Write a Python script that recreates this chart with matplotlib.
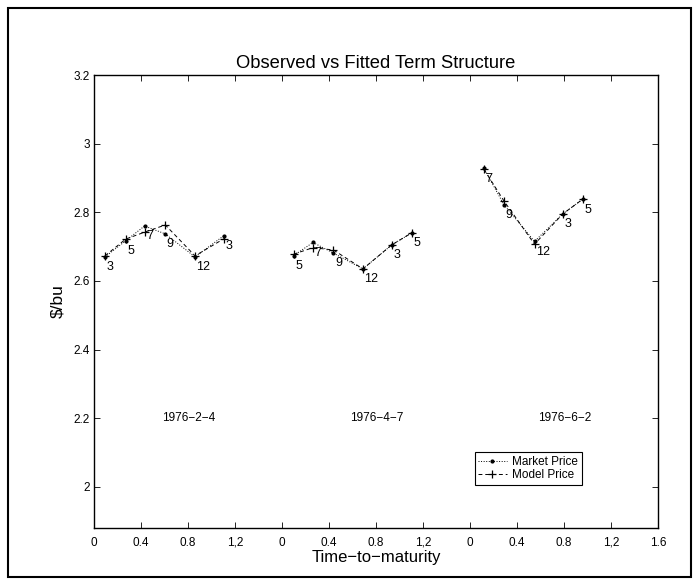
"""
Observed vs fitted futures term structure on three dates, drawn side by side
on one axis (each date shifted right by a fixed offset).
"""

import matplotlib
matplotlib.use('Agg')
import matplotlib.pyplot as plt
from matplotlib.patches import Rectangle
import numpy as np

plt.rcParams['font.family'] = ['Liberation Sans', 'DejaVu Sans']

# --- data ------------------------------------------------------------------
DATES = ['1976\u22122\u22124', '1976\u22124\u22127', '1976\u22126\u22122']

maturity_feb = [0.094, 0.270, 0.430, 0.607, 0.860, 1.106]
month_feb = [3, 5, 7, 9, 12, 3]
market_feb = [2.670, 2.717, 2.760, 2.737, 2.670, 2.732]
model_feb = [2.673, 2.722, 2.742, 2.763, 2.673, 2.723]

maturity_apr = [0.100, 0.264, 0.438, 0.689, 0.934, 1.109]
month_apr = [5, 7, 9, 12, 3, 5]
market_apr = [2.674, 2.712, 2.681, 2.635, 2.705, 2.741]
model_apr = [2.678, 2.697, 2.690, 2.635, 2.705, 2.741]

maturity_jun = [0.119, 0.289, 0.549, 0.789, 0.959]
month_jun = [7, 9, 12, 3, 5]
market_jun = [2.928, 2.822, 2.715, 2.795, 2.838]
model_jun = [2.925, 2.833, 2.707, 2.795, 2.838]

PANEL_SHIFT = 1.6
XTICK_LABELS = ['0', '0.4', '0.8', '1,2'] * 3 + ['1.6']
YTICK_LABELS = ['2', '2.2', '2.4', '2.6', '2.8', '3', '3.2']

panels = [
    (maturity_feb, month_feb, market_feb, model_feb),
    (maturity_apr, month_apr, market_apr, model_apr),
    (maturity_jun, month_jun, market_jun, model_jun),
]

fig = plt.figure(figsize=(6.99, 5.85), dpi=100)
ax = fig.add_axes([94 / 699, 1 - 528 / 585, 564 / 699, 453 / 585])

for i, (t, months, mkt, mdl) in enumerate(panels):
    x = np.asarray(t) + i * PANEL_SHIFT
    ax.plot(x, mkt, linestyle=':', marker='.', color='black',
            linewidth=0.7, markersize=4,
            label='Market Price' if i == 0 else None)
    ax.plot(x, mdl, linestyle='--', marker='+', color='black',
            linewidth=0.7, markersize=6, markeredgewidth=0.9,
            dashes=(4, 3), label='Model Price' if i == 0 else None)
    # contract month next to each market quote
    for xi, yi, m in zip(x, mkt, months):
        ax.text(xi + 0.012, yi - 0.03, str(m), ha='left', va='center',
                fontsize=9)
    ax.text(0.58 + i * PANEL_SHIFT, 2.2, DATES[i], ha='left', va='center',
            fontsize=8.5)

ax.set_xlim(0, 4.8)
ax.set_ylim(1.88, 3.2)
ax.set_xticks(np.arange(13) * 0.4)
ax.set_xticklabels(XTICK_LABELS)
ax.set_yticks([2, 2.2, 2.4, 2.6, 2.8, 3, 3.2])
ax.set_yticklabels(YTICK_LABELS)
ax.tick_params(direction='in', length=4.5, width=0.6, labelsize=8.5,
               top=True, right=True)
# baseline-aligned so the comma in "1,2" does not push it down
ax.tick_params(axis='x', pad=12.6)
for lbl in ax.get_xticklabels():
    lbl.set_verticalalignment('baseline')
ax.tick_params(axis='y', pad=3)
for s in ax.spines.values():
    s.set_linewidth(1.0)

ax.set_title('Observed vs Fitted Term Structure', fontsize=13.2, pad=5)
ax.set_xlabel('Time\u2212to\u2212maturity', fontsize=12, labelpad=1)
ax.set_ylabel('\\$/bu', fontsize=12.5, labelpad=6)

leg = ax.legend(loc='lower left', bbox_to_anchor=(0.675, 0.095),
                fontsize=8.5, frameon=True, fancybox=False, framealpha=1,
                edgecolor='black', handlelength=2.4, handletextpad=0.5,
                borderpad=0.3, labelspacing=0.15, borderaxespad=0)
leg.get_frame().set_linewidth(0.8)

# figure border, as in the printed original
fig.patches.append(Rectangle((8 / 699, 8 / 585), 683 / 699, 569 / 585,
                             transform=fig.transFigure, fill=False,
                             edgecolor='black', linewidth=1.5))

fig.savefig('out.png', dpi=100)
